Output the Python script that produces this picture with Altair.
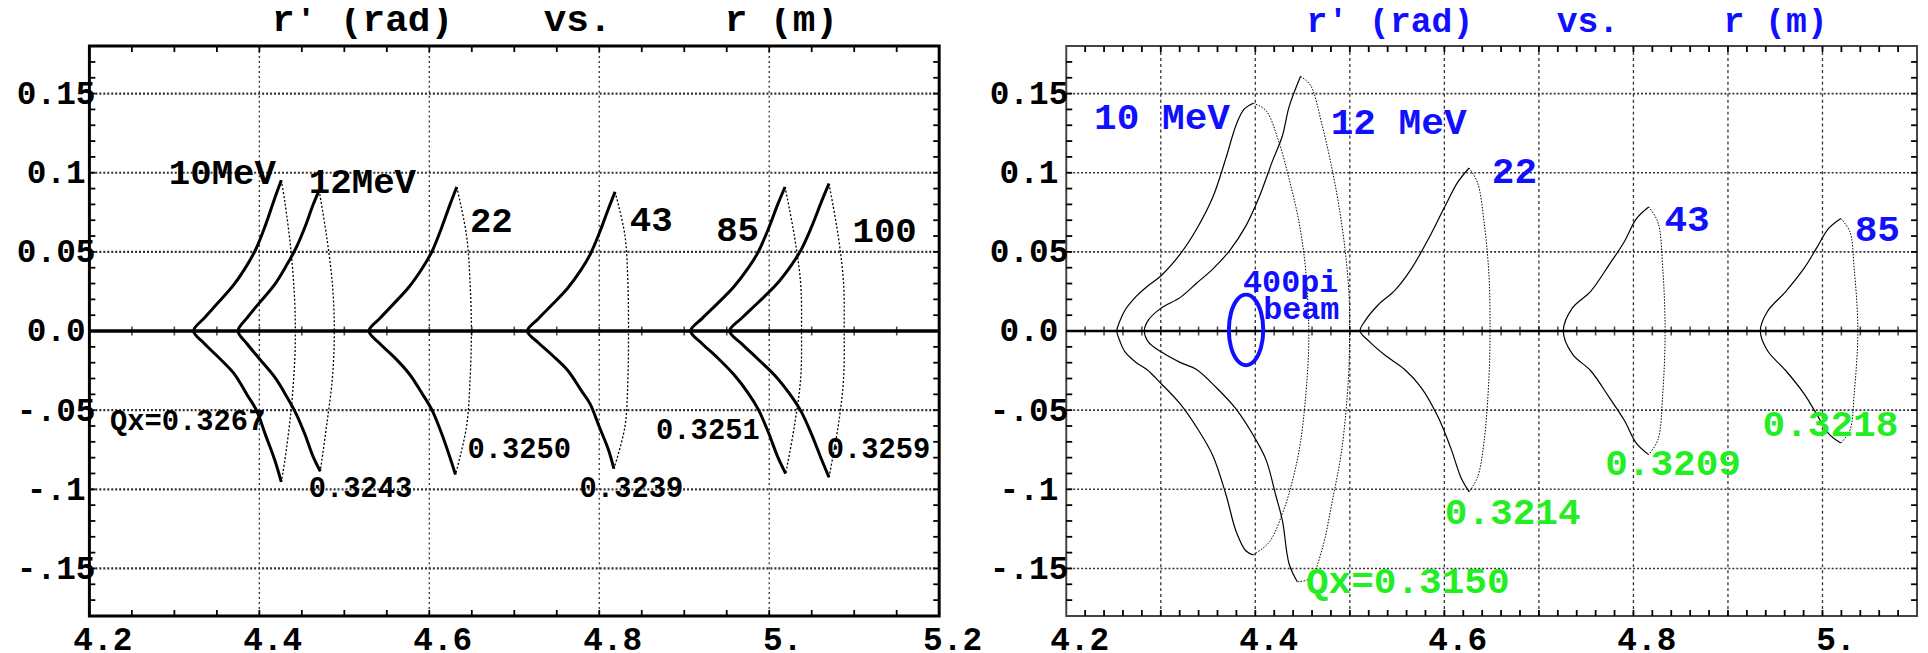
import altair as alt
import pandas as pd

# ---------------- axis structure ----------------
L_XDOM = [4.2, 5.2]
R_XDOM = [4.2, 5.1]
YDOM = [-0.18, 0.18]

L_x_label_vals = [4.2, 4.4, 4.6, 4.8, 5.0, 5.2]
L_x_label_txt = ["4.2", "4.4", "4.6", "4.8", "5.", "5.2"]
R_x_label_vals = [4.2, 4.4, 4.6, 4.8, 5.0]
R_x_label_txt = ["4.2", "4.4", "4.6", "4.8", "5."]
y_label_vals = [-0.15, -0.1, -0.05, 0.0, 0.05, 0.1, 0.15]
y_label_txt = ["-.15", "-.1", "-.05", "0.0", "0.05", "0.1", "0.15"]

L_vgrid = [4.4, 4.6, 4.8, 5.0]
R_vgrid = [4.3, 4.4, 4.5, 4.6, 4.7, 4.8, 4.9, 5.0]
hgrid = [-0.15, -0.1, -0.05, 0.05, 0.1, 0.15]
L_xminor = [round(4.2 + 0.05 * i, 3) for i in range(1, 20)]
R_xminor = [round(4.2 + 0.02 * i, 3) for i in range(1, 45)]
yminor = [round(-0.17 + 0.01 * i, 3) for i in range(0, 35)]

# ---------------- left panel orbits: r (m), r' (rad) ----------------
# "arc" = top tip -> left cusp -> bottom tip ; "edge" = top tip -> right side -> bottom tip
L10_arc_r = [4.4258, 4.4180, 4.4072, 4.3964, 4.3857, 4.3700, 4.3513, 4.3355, 4.3226, 4.3355, 4.3513, 4.3700, 4.3857, 4.3964, 4.4072, 4.4180, 4.4258]
L10_arc_rp = [0.0952, 0.0837, 0.0669, 0.0523, 0.0418, 0.0293, 0.0178, 0.0084, 0.0, -0.0080, -0.0163, -0.0268, -0.0404, -0.0499, -0.0656, -0.0813, -0.0953]
L10_edge_r = [4.4258, 4.4300, 4.4373, 4.4416, 4.4423, 4.4416, 4.4373, 4.4300, 4.4258]
L10_edge_rp = [0.0952, 0.0816, 0.0502, 0.0188, 0.0, -0.0188, -0.0502, -0.0816, -0.0953]

L12_arc_r = [4.4703, 4.4630, 4.4538, 4.4430, 4.4323, 4.4179, 4.4000, 4.3857, 4.3749, 4.3857, 4.4000, 4.4179, 4.4323, 4.4430, 4.4538, 4.4630, 4.4717]
L12_arc_rp = [0.0889, 0.0795, 0.0659, 0.0523, 0.0418, 0.0293, 0.0178, 0.0084, 0.0, -0.0082, -0.0175, -0.0290, -0.0415, -0.0520, -0.0655, -0.0790, -0.0886]
L12_edge_r = [4.4703, 4.4789, 4.4860, 4.4882, 4.4860, 4.4789, 4.4717]
L12_edge_rp = [0.0889, 0.0607, 0.0293, 0.0, -0.0293, -0.0607, -0.0886]

L22_arc_r = [4.6323, 4.6244, 4.6136, 4.6029, 4.5921, 4.5763, 4.5577, 4.5419, 4.5290, 4.5419, 4.5577, 4.5763, 4.5921, 4.6029, 4.6136, 4.6244, 4.6308]
L22_arc_rp = [0.0910, 0.0800, 0.0640, 0.0500, 0.0400, 0.0280, 0.0170, 0.0080, 0.0, -0.0080, -0.0160, -0.0270, -0.0400, -0.0497, -0.0635, -0.0800, -0.0907]
L22_edge_r = [4.6323, 4.6437, 4.6480, 4.6495, 4.6480, 4.6437, 4.6308]
L22_edge_rp = [0.0910, 0.0607, 0.0300, 0.0, -0.0300, -0.0607, -0.0907]

L43_arc_r = [4.8186, 4.8108, 4.8000, 4.7892, 4.7785, 4.7627, 4.7441, 4.7283, 4.7154, 4.7283, 4.7441, 4.7627, 4.7785, 4.7892, 4.8000, 4.8108, 4.8172]
L43_arc_rp = [0.0879, 0.0773, 0.0618, 0.0483, 0.0386, 0.0270, 0.0164, 0.0078, 0.0, -0.0074, -0.0150, -0.0248, -0.0373, -0.0460, -0.0605, -0.0750, -0.0870]
L43_edge_r = [4.8186, 4.8301, 4.8337, 4.8344, 4.8337, 4.8301, 4.8172]
L43_edge_rp = [0.0879, 0.0607, 0.0300, 0.0, -0.0300, -0.0607, -0.0870]

L85_arc_r = [5.0186, 5.0100, 4.9986, 4.9871, 4.9756, 4.9584, 4.9384, 4.9211, 4.9075, 4.9211, 4.9384, 4.9584, 4.9756, 4.9871, 4.9986, 5.0100, 5.0194]
L85_arc_rp = [0.0910, 0.0800, 0.0640, 0.0500, 0.0400, 0.0280, 0.0170, 0.0080, 0.0, -0.0080, -0.0165, -0.0275, -0.0395, -0.0495, -0.0635, -0.0795, -0.0901]
L85_edge_r = [5.0186, 5.0294, 5.0370, 5.0380, 5.0370, 5.0294, 5.0194]
L85_edge_rp = [0.0910, 0.0607, 0.0300, 0.0, -0.0300, -0.0607, -0.0901]

L100_arc_r = [5.0703, 5.0616, 5.0495, 5.0373, 5.0251, 5.0072, 4.9857, 4.9677, 4.9534, 4.9677, 4.9857, 5.0072, 5.0251, 5.0373, 5.0495, 5.0616, 5.0703]
L100_arc_rp = [0.0931, 0.0819, 0.0654, 0.0511, 0.0409, 0.0287, 0.0174, 0.0082, 0.0, -0.0081, -0.0172, -0.0284, -0.0405, -0.0506, -0.0648, -0.0812, -0.0924]
L100_edge_r = [5.0703, 5.0810, 5.0875, 5.0882, 5.0875, 5.0810, 5.0703]
L100_edge_rp = [0.0931, 0.0607, 0.0300, 0.0, -0.0300, -0.0607, -0.0924]

# ---------------- right panel orbits ----------------
R10_arc_r = [4.3979, 4.3880, 4.3797, 4.3692, 4.3552, 4.3378, 4.3203, 4.3000, 4.2853, 4.2742, 4.2620, 4.2565, 4.2535,
             4.2565, 4.2620, 4.2742, 4.2853, 4.3000, 4.3203, 4.3378, 4.3552, 4.3692, 4.3797, 4.3902, 4.3979]
R10_arc_rp = [0.1439, 0.1400, 0.1302, 0.1098, 0.0848, 0.0643, 0.0484, 0.0348, 0.0280, 0.0220, 0.0130, 0.0060, 0.0,
              -0.0060, -0.0130, -0.0200, -0.0243, -0.0330, -0.0459, -0.0607, -0.0789, -0.1039, -0.1266, -0.1390, -0.1414]
R10_edge_r = [4.3979, 4.4112, 4.4252, 4.4357, 4.4462, 4.4531, 4.4566, 4.4549, 4.4479, 4.4392, 4.4287, 4.4147, 4.3979]
R10_edge_rp = [0.1439, 0.1393, 0.1189, 0.0961, 0.0689, 0.0393, 0.0, -0.0289, -0.0698, -0.0948, -0.1152, -0.1334, -0.1414]

R12_arc_r = [4.4479, 4.4357, 4.4287, 4.4182, 4.4042, 4.3902, 4.3727, 4.3552, 4.3378, 4.3203, 4.3000, 4.2870, 4.2826,
             4.2870, 4.3000, 4.3203, 4.3378, 4.3587, 4.3797, 4.3972, 4.4112, 4.4217, 4.4287, 4.4357, 4.4444]
R12_arc_rp = [0.1609, 0.1416, 0.1234, 0.1075, 0.0848, 0.0666, 0.0507, 0.0393, 0.0302, 0.0211, 0.0143, 0.0070, 0.0,
              -0.0070, -0.0130, -0.0198, -0.0243, -0.0357, -0.0493, -0.0652, -0.0811, -0.1039, -0.1198, -0.1470, -0.1584]
R12_edge_r = [4.4479, 4.4584, 4.4706, 4.4794, 4.4881, 4.4951, 4.4993, 4.4997, 4.4986, 4.4916, 4.4811, 4.4706, 4.4584, 4.4444]
R12_edge_rp = [0.1609, 0.1552, 0.1302, 0.1075, 0.0802, 0.0507, 0.0211, 0.0, -0.0289, -0.0743, -0.1084, -0.1380, -0.1561, -0.1584]

R22_arc_r = [4.6262, 4.6140, 4.6000, 4.5825, 4.5650, 4.5476, 4.5301, 4.5161, 4.5108,
             4.5196, 4.5370, 4.5580, 4.5755, 4.5930, 4.6070, 4.6175, 4.6262]
R22_arc_rp = [0.1030, 0.0939, 0.0780, 0.0575, 0.0393, 0.0257, 0.0166, 0.0064, 0.0,
              -0.0061, -0.0152, -0.0243, -0.0357, -0.0539, -0.0743, -0.0925, -0.1016]
R22_edge_r = [4.6262, 4.6350, 4.6420, 4.6472, 4.6483, 4.6472, 4.6420, 4.6350, 4.6262]
R22_edge_rp = [0.1030, 0.0939, 0.0689, 0.0348, 0.0, -0.0289, -0.0698, -0.0925, -0.1016]

R43_arc_r = [4.8161, 4.8032, 4.7903, 4.7742, 4.7548, 4.7355, 4.7258, 4.7355, 4.7548, 4.7742, 4.7903, 4.8032, 4.8161]
R43_arc_rp = [0.0784, 0.0710, 0.0564, 0.0418, 0.0251, 0.0146, 0.0, -0.0146, -0.0251, -0.0418, -0.0564, -0.0710, -0.0781]
R43_edge_r = [4.8161, 4.8258, 4.8310, 4.8335, 4.8310, 4.8258, 4.8161]
R43_edge_rp = [0.0784, 0.0689, 0.0397, 0.0, -0.0397, -0.0689, -0.0781]

R85_arc_r = [5.0194, 5.0065, 4.9935, 4.9806, 4.9613, 4.9419, 4.9342, 4.9419, 4.9613, 4.9806, 4.9935, 5.0065, 5.0194]
R85_arc_rp = [0.0711, 0.0648, 0.0522, 0.0397, 0.0251, 0.0125, 0.0, -0.0125, -0.0251, -0.0397, -0.0522, -0.0648, -0.0708]
R85_edge_r = [5.0194, 5.0290, 5.0335, 5.0374, 5.0335, 5.0290, 5.0194]
R85_edge_rp = [0.0711, 0.0627, 0.0397, 0.0, -0.0397, -0.0627, -0.0708]

# 400 pi beam ellipse
beam_r = [4.4084, 4.4060, 4.3993, 4.3902, 4.3811, 4.3744, 4.3720, 4.3744, 4.3811, 4.3902, 4.3993, 4.4060]
beam_rp = [0.0007, 0.0118, 0.0200, 0.0230, 0.0200, 0.0118, 0.0007, -0.0104, -0.0186, -0.0216, -0.0186, -0.0104]

# ---------------- annotations ----------------
L_lab_txt = ["10MeV", "12MeV", "22", "43", "85", "100"]
L_lab_r = [4.3565, 4.5213, 4.6730, 4.8612, 4.9628, 5.1358]
L_lab_rp = [0.0998, 0.0942, 0.0697, 0.0703, 0.0640, 0.0634]
L_qx_txt = ["Qx=0.3267", "0.3243", "0.3250", "0.3239", "0.3251", "0.3259"]
L_qx_r = [4.3157, 4.5190, 4.7058, 4.8378, 4.9278, 5.1287]
L_qx_rp = [-0.0571, -0.0992, -0.0747, -0.0992, -0.0628, -0.0747]

R_lab_txt = ["10 MeV", "12 MeV", "22", "43", "85"]
R_lab_r = [4.3013, 4.5516, 4.6742, 4.8568, 5.0580]
R_lab_rp = [0.1343, 0.1312, 0.1003, 0.0700, 0.0637]
R_beam_txt = ["400pi", "beam"]
R_beam_r = [4.4374, 4.4486]
R_beam_rp = [0.0309, 0.0139]
R_qx_txt = ["Qx=0.3150", "0.3214", "0.3209", "0.3218"]
R_qx_r = [4.5613, 4.6723, 4.8419, 5.0084]
R_qx_rp = [-0.1587, -0.1152, -0.0838, -0.0593]

TITLE = "r\u2032 (rad)\u00a0\u00a0\u00a0\u00a0vs.\u00a0\u00a0\u00a0\u00a0\u00a0r (m)"
BLUE = "#1010ff"
GREEN = "#22ee22"
FONT = "Liberation Mono"

W_L, W_R, H = 856, 857, 574


def orbit_df(named):
    rows = []
    for name, (ar, arp, er, erp) in named.items():
        for i, (x, y) in enumerate(zip(ar, arp)):
            rows.append(dict(curve=name, part="arc", i=i, r=x, rp=y))
        for i, (x, y) in enumerate(zip(er, erp)):
            rows.append(dict(curve=name, part="edge", i=i, r=x, rp=y))
    return pd.DataFrame(rows)


def label_expr(vals, txts):
    parts = [f"abs(datum.value - ({v})) < 1e-6 ? '{t}'" for v, t in zip(vals, txts)]
    return " : ".join(parts) + " : ''"


def panel(orbits, xdom, width, vgrid, xminor, xlab_vals, xlab_txt, texts,
          title_color, title_size, title_dx, arc_w, edge_w, edge_dash,
          border_col, border_w, hgrid_w, vgrid_dash, zero_w, ypad, extra=None):
    xs = alt.Scale(domain=xdom, nice=False, zero=False)
    ys = alt.Scale(domain=YDOM, nice=False, zero=False)
    df = orbit_df(orbits)
    lab_font = dict(labelFont=FONT, labelFontWeight="bold", labelFontSize=33,
                    labelColor="black", labelOverlap=False, ticks=False, tickSize=0,
                    domain=False, grid=False, title=None)
    xaxis = alt.Axis(values=xlab_vals, labelExpr=label_expr(xlab_vals, xlab_txt),
                     labelPadding=8, labelOffset=13, labelBaseline="top", labelFlush=False,
                     labelAlign="center", **lab_font)
    yaxis = alt.Axis(values=y_label_vals, labelExpr=label_expr(y_label_vals, y_label_txt),
                     labelPadding=ypad, labelAlign="center", labelBaseline="middle",
                     labelFlush=False, **lab_font)
    X0 = lambda f: alt.X(f, type="quantitative", scale=xs, axis=xaxis, title=None)
    Y0 = lambda f: alt.Y(f, type="quantitative", scale=ys, axis=yaxis, title=None)

    layers = []
    # grid lines
    layers.append(alt.Chart(pd.DataFrame({"v": hgrid})).mark_rule(
        color="#333333", strokeWidth=hgrid_w, strokeDash=[2, 2]).encode(y=Y0("v")))
    layers.append(alt.Chart(pd.DataFrame({"v": vgrid})).mark_rule(
        color="#333333", strokeWidth=1.3, strokeDash=vgrid_dash).encode(x=X0("v")))
    # inward ticks on the frame
    xt = pd.DataFrame({"v": xminor})
    yt = pd.DataFrame({"v": yminor})
    tk = dict(color="black", strokeWidth=1.8)
    layers.append(alt.Chart(xt).mark_rule(**tk).encode(x=X0("v"), y=alt.value(H), y2=alt.value(H - 6)))
    layers.append(alt.Chart(xt).mark_rule(**tk).encode(x=X0("v"), y=alt.value(0), y2=alt.value(6)))
    layers.append(alt.Chart(yt).mark_rule(**tk).encode(y=Y0("v"), x=alt.value(0), x2=alt.value(6)))
    layers.append(alt.Chart(yt).mark_rule(**tk).encode(y=Y0("v"), x=alt.value(width), x2=alt.value(width - 6)))
    # zero line with its own ticks
    layers.append(alt.Chart(pd.DataFrame({"v": [0.0]})).mark_rule(
        color="black", strokeWidth=zero_w).encode(y=Y0("v")))
    layers.append(alt.Chart(xt.assign(z=0.0)).mark_tick(
        color="black", orient="vertical", size=9, thickness=1.6).encode(x=X0("v"), y=Y0("z")))
    # orbits
    layers.append(alt.Chart(df).transform_filter("datum.part == 'edge'").mark_line(
        color="black", strokeWidth=edge_w, strokeDash=edge_dash, interpolate="catmull-rom").encode(
        x=X0("r"), y=Y0("rp"), detail="curve:N", order="i:Q"))
    layers.append(alt.Chart(df).transform_filter("datum.part == 'arc'").mark_line(
        color="black", strokeWidth=arc_w, interpolate="catmull-rom").encode(
        x=X0("r"), y=Y0("rp"), detail="curve:N", order="i:Q"))
    if extra is not None:
        layers.append(extra(X0, Y0))
    # text annotations
    tdf = pd.DataFrame(texts)
    layers.append(alt.Chart(tdf).mark_text(font=FONT, fontWeight="bold", align="center",
                                           baseline="middle").encode(
        x=X0("r"), y=Y0("rp"), text="t:N",
        size=alt.Size("fs:Q", scale=None, legend=None),
        color=alt.Color("col:N", scale=None, legend=None)))

    return alt.layer(*layers).properties(
        width=width, height=H,
        title=alt.TitleParams(TITLE, font=FONT, fontSize=title_size, fontWeight="bold",
                              color=title_color, anchor="middle", dx=title_dx, offset=6),
        view=alt.ViewBackground(stroke=border_col, strokeWidth=border_w),
    )


def texts_from(groups):
    out = {"t": [], "r": [], "rp": [], "fs": [], "col": []}
    for txt, rr, rrp, fs, col in groups:
        out["t"] += txt
        out["r"] += rr
        out["rp"] += rrp
        out["fs"] += [fs] * len(txt)
        out["col"] += [col] * len(txt)
    return out


left_orbits = {
    "10": (L10_arc_r, L10_arc_rp, L10_edge_r, L10_edge_rp),
    "12": (L12_arc_r, L12_arc_rp, L12_edge_r, L12_edge_rp),
    "22": (L22_arc_r, L22_arc_rp, L22_edge_r, L22_edge_rp),
    "43": (L43_arc_r, L43_arc_rp, L43_edge_r, L43_edge_rp),
    "85": (L85_arc_r, L85_arc_rp, L85_edge_r, L85_edge_rp),
    "100": (L100_arc_r, L100_arc_rp, L100_edge_r, L100_edge_rp),
}
right_orbits = {
    "10": (R10_arc_r, R10_arc_rp, R10_edge_r, R10_edge_rp),
    "12": (R12_arc_r, R12_arc_rp, R12_edge_r, R12_edge_rp),
    "22": (R22_arc_r, R22_arc_rp, R22_edge_r, R22_edge_rp),
    "43": (R43_arc_r, R43_arc_rp, R43_edge_r, R43_edge_rp),
    "85": (R85_arc_r, R85_arc_rp, R85_edge_r, R85_edge_rp),
}

left_texts = texts_from([
    (L_lab_txt, L_lab_r, L_lab_rp, 36, "black"),
    (L_qx_txt, L_qx_r, L_qx_rp, 29, "black"),
])
right_texts = texts_from([
    (R_lab_txt, R_lab_r, R_lab_rp, 38, BLUE),
    (R_beam_txt, R_beam_r, R_beam_rp, 32, BLUE),
    (R_qx_txt, R_qx_r, R_qx_rp, 38, GREEN),
])


def beam_layer(X0, Y0):
    bdf = pd.DataFrame({"r": beam_r, "rp": beam_rp, "i": list(range(len(beam_r)))})
    return alt.Chart(bdf).mark_line(color=BLUE, strokeWidth=4, interpolate="cardinal-closed").encode(
        x=X0("r"), y=Y0("rp"), order="i:Q")


left = panel(left_orbits, L_XDOM, W_L, L_vgrid, L_xminor, L_x_label_vals, L_x_label_txt,
             left_texts, "black", 38, 41, arc_w=3, edge_w=1.3, edge_dash=[2, 2],
             border_col="black", border_w=3, hgrid_w=2.2, vgrid_dash=[2, 3], zero_w=3.5, ypad=34)
right = panel(right_orbits, R_XDOM, W_R, R_vgrid, R_xminor, R_x_label_vals, R_x_label_txt,
              right_texts, BLUE, 35, 76, arc_w=1.2, edge_w=1.0, edge_dash=[1.5, 1.5],
              border_col="#444444", border_w=2, hgrid_w=1.6, vgrid_dash=[3, 3], zero_w=2.5, ypad=38,
              extra=beam_layer)

chart = alt.HConcatChart(hconcat=[left, right], spacing=128, bounds="flush").properties(
    padding={"left": 6, "top": -11, "right": 0, "bottom": 0},
    background="white",
)

chart.save("out.html", embed_options={"renderer": "svg", "actions": False})
